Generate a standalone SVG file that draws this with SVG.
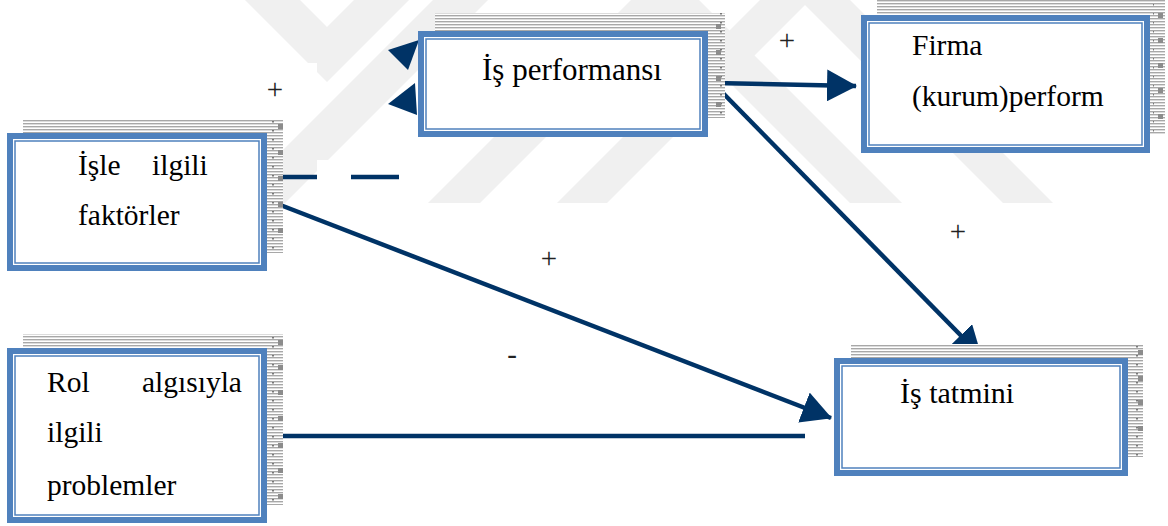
<svg xmlns="http://www.w3.org/2000/svg" width="1168" height="526" viewBox="0 0 1168 526">
  <defs>
    <style>
      .frame { fill: #ffffff; stroke: #4F81BD; stroke-width: 6; }
      .inner { fill: none; stroke: #4F81BD; stroke-width: 1.5; }
      .shadow { fill: url(#hatch); }
      .knob { fill: #8c8c8c; }
      .lbl { font-family: 'Liberation Serif', 'DejaVu Serif', serif; font-size: 29.5px; fill: #000000; }
      .sign { font-family: 'Liberation Serif', 'DejaVu Serif', serif; font-size: 29px; fill: #222222; text-anchor: middle; }
      .wire { fill: none; stroke: #003366; stroke-width: 4.5; }
      .head { fill: #003366; }
      .wm { fill: #f0f0f0; }
    </style>
    <pattern id="hatch" width="8" height="3" patternUnits="userSpaceOnUse">
      <rect width="8" height="3" fill="#ffffff"/>
      <rect width="8" height="1" fill="#a8a8a8"/>
      <rect y="1" width="8" height="1" fill="#dcdcdc"/>
    </pattern>
    <pattern id="ticks" width="16" height="9" patternUnits="userSpaceOnUse">
      <rect x="0" y="4" width="2" height="1.5" fill="#777777"/>
    </pattern>
    <marker id="arrow" markerUnits="userSpaceOnUse" markerWidth="30" markerHeight="32" refX="29" refY="16" orient="auto">
      <path d="M0,0 L30,16 L0,32 z" fill="#003366"/>
    </marker>
    <clipPath id="wmClip">
      <rect x="0" y="0" width="1168" height="203"/>
    </clipPath>
  </defs>

  <rect width="1168" height="526" fill="#ffffff"/>

  <!-- faint background stripes -->
  <g id="backdrop" clip-path="url(#wmClip)">
    <polygon class="wm" points="245,0 300,0 327,27 354,0 409,0 327,82"/>
    <polygon class="wm" points="230,203 285,203 488,0 433,0"/>
    <polygon class="wm" points="428,203 480,203 683,0 631,0"/>
    <polygon class="wm" points="557,203 607,203 810,0 760,0"/>
    <polygon class="wm" points="850,203 902,203 699,0 647,0"/>
    <polygon class="wm" points="1003,203 1053,203 850,0 800,0"/>
  </g>

  <!-- label backings -->
  <rect x="248" y="63" width="69" height="49" fill="#ffffff"/>
  <rect x="317" y="160" width="34" height="45" fill="#ffffff"/>

  <!-- connectors -->
  <g id="connectors">
    <line class="wire" x1="714" y1="83" x2="856" y2="86" marker-end="url(#arrow)"/>
    <line class="wire" x1="716" y1="86" x2="981" y2="356" marker-end="url(#arrow)"/>
    <line class="wire" x1="270" y1="201" x2="831" y2="418" marker-end="url(#arrow)"/>
    <line class="wire" x1="270" y1="436" x2="805" y2="436"/>
    <line class="wire" x1="268" y1="177" x2="317" y2="177"/>
    <line class="wire" x1="351" y1="177" x2="399" y2="177"/>
    <polygon class="head" points="388,50 419,40 408,70"/>
    <polygon class="head" points="388,104 415,83 417,115"/>
  </g>

  <!-- node: İşle ilgili faktörler -->
  <g id="node-isle-ilgili">
    <rect class="shadow" x="23" y="119" width="260" height="134"/>
    <rect x="271" y="119" width="12" height="134" fill="url(#ticks)"/>
    <rect class="knob" x="278" y="124" width="5" height="5"/>
    <rect class="knob" x="278" y="150" width="5" height="5"/>
    <rect class="knob" x="278" y="176" width="5" height="5"/>
    <rect class="knob" x="278" y="202" width="5" height="5"/>
    <rect class="knob" x="278" y="228" width="5" height="5"/>
    <rect class="frame" x="10" y="136" width="254" height="132"/>
    <rect class="inner" x="15" y="141" width="244" height="122"/>
    <text class="lbl" x="78" y="175">İşle</text>
    <text class="lbl" x="152" y="175">ilgili</text>
    <text class="lbl" x="78" y="225">faktörler</text>
  </g>

  <!-- node: İş performansı -->
  <g id="node-is-performansi">
    <rect class="shadow" x="435" y="13" width="290" height="105"/>
    <rect x="713" y="13" width="12" height="105" fill="url(#ticks)"/>
    <rect class="knob" x="716" y="24" width="5" height="5"/>
    <rect class="knob" x="716" y="50" width="5" height="5"/>
    <rect class="knob" x="716" y="76" width="5" height="5"/>
    <rect class="knob" x="716" y="102" width="5" height="5"/>
    <rect class="frame" x="421" y="34" width="284" height="100"/>
    <rect class="inner" x="426" y="39" width="274" height="90"/>
    <text class="lbl" x="482" y="80" style="font-size:31px">İş performansı</text>
  </g>

  <!-- node: Firma (kurum) performansı -->
  <g id="node-firma">
    <rect class="shadow" x="877" y="-3" width="288" height="138"/>
    <rect x="1153" y="0" width="12" height="135" fill="url(#ticks)"/>
    <rect class="knob" x="1158" y="13" width="5" height="5"/>
    <rect class="knob" x="1158" y="38" width="5" height="5"/>
    <rect class="knob" x="1158" y="63" width="5" height="5"/>
    <rect class="knob" x="1158" y="88" width="5" height="5"/>
    <rect class="knob" x="1158" y="114" width="5" height="5"/>
    <rect class="frame" x="864" y="18" width="283" height="132"/>
    <rect class="inner" x="869" y="23" width="273" height="122"/>
    <text class="lbl" x="912" y="55">Firma</text>
    <text class="lbl" x="912" y="106">(kurum)perform</text>
  </g>

  <!-- node: Rol algısıyla ilgili problemler -->
  <g id="node-rol">
    <rect class="shadow" x="23" y="334" width="260" height="171"/>
    <rect x="271" y="334" width="12" height="171" fill="url(#ticks)"/>
    <rect class="knob" x="278" y="340" width="5" height="5"/>
    <rect class="knob" x="278" y="365" width="5" height="5"/>
    <rect class="knob" x="278" y="390" width="5" height="5"/>
    <rect class="knob" x="278" y="416" width="5" height="5"/>
    <rect class="knob" x="278" y="443" width="5" height="5"/>
    <rect class="knob" x="278" y="468" width="5" height="5"/>
    <rect class="knob" x="278" y="494" width="5" height="5"/>
    <rect class="frame" x="10" y="351" width="254" height="169"/>
    <rect class="inner" x="15" y="356" width="244" height="159"/>
    <text class="lbl" x="47" y="392">Rol</text>
    <text class="lbl" x="142" y="392">algısıyla</text>
    <text class="lbl" x="47" y="442">ilgili</text>
    <text class="lbl" x="47" y="495">problemler</text>
  </g>

  <!-- node: İş tatmini -->
  <g id="node-is-tatmini">
    <rect class="shadow" x="851" y="344" width="292" height="113"/>
    <rect x="1131" y="344" width="12" height="113" fill="url(#ticks)"/>
    <rect class="knob" x="1138" y="350" width="5" height="5"/>
    <rect class="knob" x="1138" y="376" width="5" height="5"/>
    <rect class="knob" x="1138" y="400" width="5" height="5"/>
    <rect class="knob" x="1138" y="426" width="5" height="5"/>
    <rect class="frame" x="837" y="361" width="288" height="112"/>
    <rect class="inner" x="842" y="366" width="278" height="102"/>
    <text class="lbl" x="900" y="403" style="font-size:30px">İş tatmini</text>
  </g>

  <!-- signs on the links -->
  <g id="signs">
    <text class="sign" x="275" y="99">+</text>
    <text class="sign" x="787" y="50">+</text>
    <text class="sign" x="549" y="268">+</text>
    <text class="sign" x="958" y="241">+</text>
    <text class="sign" x="512" y="364">-</text>
  </g>
</svg>
